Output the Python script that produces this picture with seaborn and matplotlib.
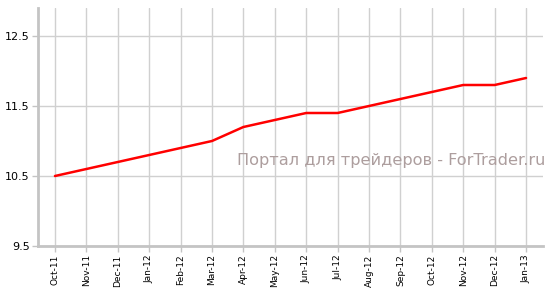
import matplotlib
matplotlib.use("Agg")
import matplotlib.pyplot as plt
import seaborn as sns
import pandas as pd

months = ["Oct-11", "Nov-11", "Dec-11", "Jan-12", "Feb-12", "Mar-12", "Apr-12", "May-12",
          "Jun-12", "Jul-12", "Aug-12", "Sep-12", "Oct-12", "Nov-12", "Dec-12", "Jan-13"]
values = [10.5, 10.6, 10.7, 10.8, 10.9, 11.0, 11.2, 11.3,
          11.4, 11.4, 11.5, 11.6, 11.7, 11.8, 11.8, 11.9]
y_ticks = [9.5, 10.5, 11.5, 12.5]
watermark = "Портал для трейдеров - ForTrader.ru"

sns.set_theme(style="white")
plt.rcParams["font.family"] = ["DejaVu Sans"]

df = pd.DataFrame({"month": months, "value": values})

fig = plt.figure(figsize=(5.53, 2.98), dpi=100)
ax = fig.add_axes([38/553, 1-246/298, (543-38)/553, (246-8)/298])

sns.lineplot(data=df, x="month", y="value", ax=ax, color="#ff0000", linewidth=1.8, sort=False)

ax.set_xlim(-0.54, 15.54)
ax.set_ylim(9.5, 12.9)
ax.set_yticks(y_ticks)
ax.set_yticklabels([f"{v:.1f}" for v in y_ticks], fontsize=8, color="#000000")
ax.set_xticks(range(len(months)))
ax.set_xticklabels(months, rotation=90, fontsize=6.5, color="#000000")
ax.set_xlabel("")
ax.set_ylabel("")

ax.grid(True, color="#d0d0d0", linewidth=1.0)
ax.set_axisbelow(True)
for s in ["top", "right"]:
    ax.spines[s].set_visible(False)
for s in ["left", "bottom"]:
    ax.spines[s].set_color("#c4c4c4")
    ax.spines[s].set_linewidth(2.0)
ax.tick_params(axis="both", which="both", length=4, width=1, color="#c4c4c4", pad=2,
               bottom=True, left=True)

fig.text(545/553, 1-160/298, watermark, ha="right", va="center",
         fontsize=11.6, color="#ad9e9e")

fig.savefig("out.png", dpi=100)
